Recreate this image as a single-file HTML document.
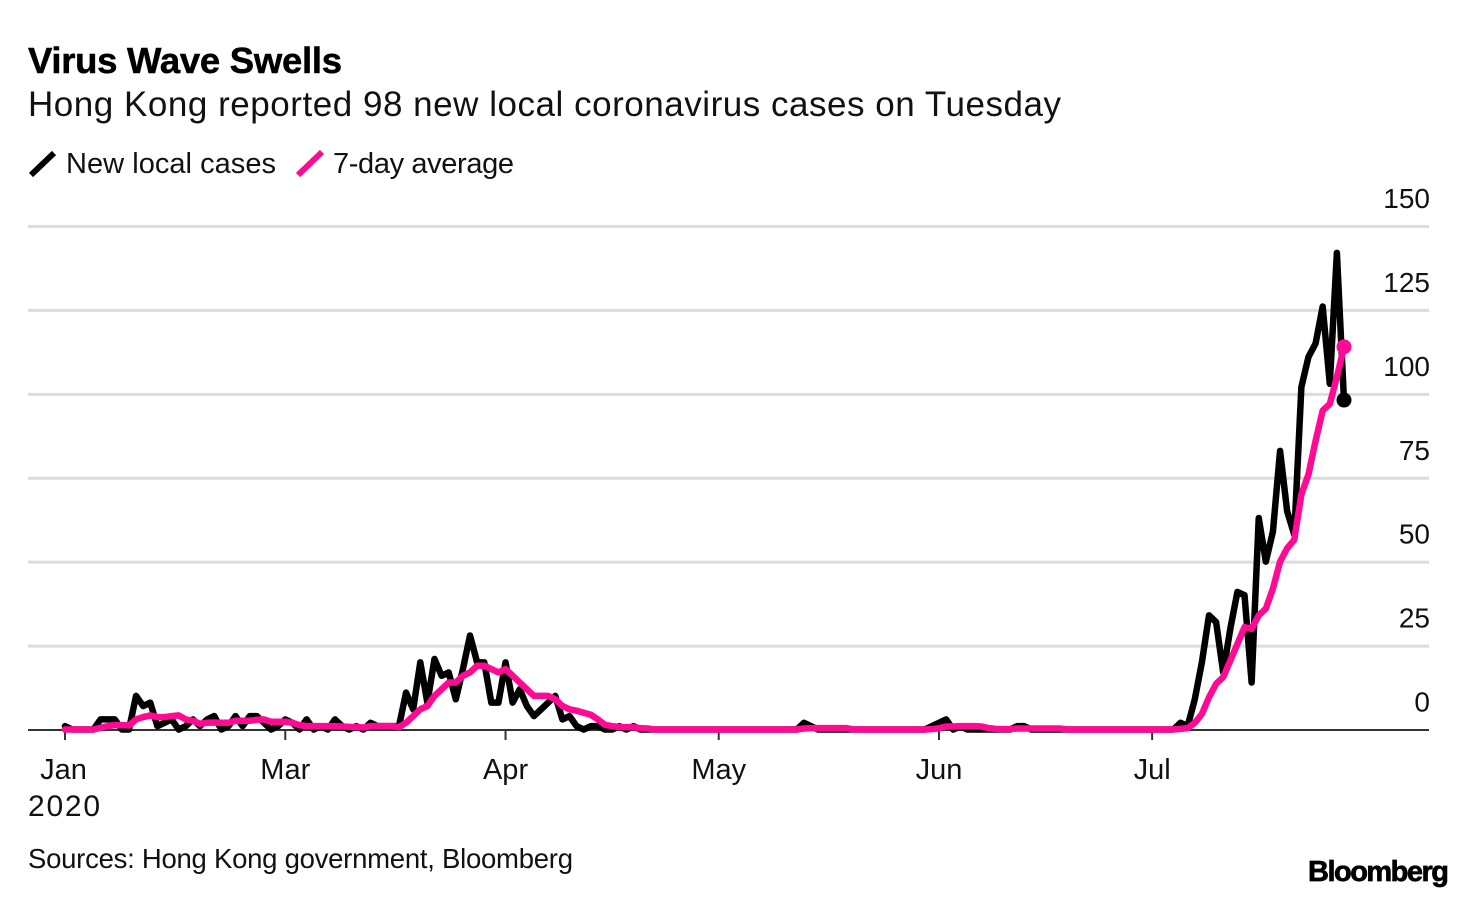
<!DOCTYPE html>
<html lang="en">
<head>
<meta charset="utf-8">
<title>Virus Wave Swells</title>
<style>
  html, body { margin: 0; padding: 0; background: #fff; }
  svg { display: block; font-family: "Liberation Sans", sans-serif; fill: #111; }
</style>
</head>
<body>
<svg id="chart" width="1476" height="898" viewBox="0 0 1476 898" xmlns="http://www.w3.org/2000/svg">
  <text x="28" y="73" font-size="36.5" font-weight="700" fill="#000" stroke="#000" stroke-width="0.5" textLength="314" lengthAdjust="spacing">Virus Wave Swells</text>
  <text x="28" y="116" font-size="35" textLength="1033" lengthAdjust="spacing">Hong Kong reported 98 new local coronavirus cases on Tuesday</text>

  <g>
    <line x1="31" y1="175" x2="54" y2="153" stroke="#000" stroke-width="6"/>
    <text x="66" y="173" font-size="29" textLength="210" lengthAdjust="spacing">New local cases</text>
    <line x1="298" y1="175" x2="322" y2="152" stroke="#ff0a93" stroke-width="6"/>
    <text x="333" y="173" font-size="29" textLength="181" lengthAdjust="spacing">7-day average</text>
  </g>

  <g id="grid"></g>
  <g id="ylabels"></g>
  <g id="xaxis"></g>
  <g id="series"></g>

  <text x="28" y="816" font-size="30" textLength="72" lengthAdjust="spacing">2020</text>
  <text x="28" y="868" font-size="27.5" textLength="545" lengthAdjust="spacing">Sources: Hong Kong government, Bloomberg</text>
  <text x="1308" y="881" font-size="29" font-weight="700" fill="#000" stroke="#000" stroke-width="0.7" textLength="141" lengthAdjust="spacing">Bloomberg</text>
</svg>

<script>
// Daily new local cases, day 0 (first tick) through day 180 (Jul 28)
const newCases = [
  1,0,0,0,0,3,3,3,0,0,
  10,7,8,1,2,3,0,1,3,1,
  3,4,0,1,4,1,4,4,2,0,
  1,3,2,0,3,0,1,0,3,1,
  0,1,0,2,1,1,1,1,11,6,
  20,8,21,16,17,9,18,28,20,20,
  8,8,20,8,12,7,4,6,8,10,
  3,4,1,0,1,1,0,0,1,0,
  1,0,0,0,0,0,0,0,0,0,
  0,0,0,0,0,0,0,0,0,0,
  0,0,0,0,2,1,0,0,0,0,
  0,0,0,0,0,0,0,0,0,0,
  0,0,1,2,3,0,1,0,0,0,
  0,0,0,0,1,1,0,0,0,0,
  0,0,0,0,0,0,0,0,0,0,
  0,0,0,0,0,0,0,2,1,9,
  20,34,32,17,30,41,40,14,63,50,
  59,83,65,58,102,111,115,126,103,142,
  98
];
// 7-day average
const sevenDayAverage = [
  0,0,0,0,0,0.5,1,1.3,1.3,1.2,
  3,3.7,4.2,3.7,3.7,4,4.2,3,2.6,1.7,
  2,2.1,2,2,2.6,2.6,2.6,2.9,3,2.3,
  2.3,2.3,2,1.3,1,1,1,1,1,0.9,
  0.8,0.7,0.6,1,1,1,1,0.7,2,4,
  6,7,10,12,14,14,16,17,19,19,
  18,17,18,16,14,12,10,10,10,9,
  7,6,5.6,5,4.4,3,1.4,1,0.7,0.7,
  0.7,0.4,0.3,0,0,0,0,0,0,0,
  0,0,0,0,0,0,0,0,0,0,
  0,0,0,0,0.3,0.4,0.4,0.4,0.4,0.4,
  0.4,0,0,0,0,0,0,0,0,0,
  0,0,0.1,0.4,0.9,0.9,1,1,1,0.9,
  0.4,0.2,0.1,0.1,0.3,0.3,0.3,0.3,0.3,0.3,
  0.3,0,0,0,0,0,0,0,0,0,
  0,0,0,0,0,0,0,0.2,0.4,2,
  4.6,9.6,13.6,15.6,20.5,25.5,30.5,30,34,36,
  42,50,54,56.5,70,76,86,95,97,105,
  114
];
const yTickValues = [0, 25, 50, 75, 100, 125, 150];
const xTickLabels = ["Jan", "Mar", "Apr", "May", "Jun", "Jul"];
const xTickDays = [0, 31, 62, 92, 123, 153];

const NS = "http://www.w3.org/2000/svg";
const xDayMax = 180, xLeft = 65, xRight = 1344;
const yMax = 150, yBottom = 729.5, yTop = 226;
function xScale(day) { return xLeft + (xRight - xLeft) * day / xDayMax; }
function yScale(v) { return yBottom - (yBottom - yTop) * v / yMax; }
function svgEl(tag, attrs) {
  const el = document.createElementNS(NS, tag);
  for (const k in attrs) el.setAttribute(k, attrs[k]);
  return el;
}

const grid = document.getElementById("grid");
const ylabels = document.getElementById("ylabels");
yTickValues.forEach(function (v) {
  if (v > 0) {
    const gl = svgEl("line", { x1: 28, x2: 1429, y1: yScale(v) + 0.5, y2: yScale(v) + 0.5, stroke: "#dcdcdc", "stroke-width": 3 });
    
    
    grid.appendChild(gl);
  }
  const t = svgEl("text", { x: 1430, y: yScale(v) - 18, "text-anchor": "end", "font-size": 28 });
  
  
  t.textContent = String(v);
  ylabels.appendChild(t);
});

const xaxis = document.getElementById("xaxis");
const baseline = svgEl("line", { x1: 28, x2: 1429, y1: 730, y2: 730, stroke: "#333", "stroke-width": 2 });


xaxis.appendChild(baseline);
xTickLabels.forEach(function (label, i) {
  const x = xScale(xTickDays[i]);
  const tick = svgEl("line", { x1: x, x2: x, y1: 730, y2: 740, stroke: "#333", "stroke-width": 2 });
  
  
  xaxis.appendChild(tick);
  const t = svgEl("text", { x: x - (i === 0 ? 1.5 : 0), y: 779, "text-anchor": "middle", "font-size": 29 });
  
  
  t.textContent = label;
  xaxis.appendChild(t);
});

function linePath(values) {
  return values.map(function (v, i) {
    return (i ? "L" : "M") + xScale(i).toFixed(2) + " " + yScale(v).toFixed(2);
  }).join("");
}
const series = document.getElementById("series");

const casesLine = svgEl("path", { d: linePath(newCases), fill: "none", stroke: "#000", "stroke-width": 6.5, "stroke-linejoin": "round", "stroke-linecap": "round" });


series.appendChild(casesLine);

const casesDot = svgEl("circle", { cx: xScale(newCases.length - 1), cy: yScale(newCases[newCases.length - 1]) - 0.5, r: 7.5, fill: "#000" });


series.appendChild(casesDot);

const avgLine = svgEl("path", { d: linePath(sevenDayAverage), fill: "none", stroke: "#ff0a93", "stroke-width": 6.5, "stroke-linejoin": "round", "stroke-linecap": "round" });


series.appendChild(avgLine);

const avgDot = svgEl("circle", { cx: xScale(sevenDayAverage.length - 1), cy: yScale(sevenDayAverage[sevenDayAverage.length - 1]), r: 7.5, fill: "#ff0a93" });


series.appendChild(avgDot);
</script>
</body>
</html>
